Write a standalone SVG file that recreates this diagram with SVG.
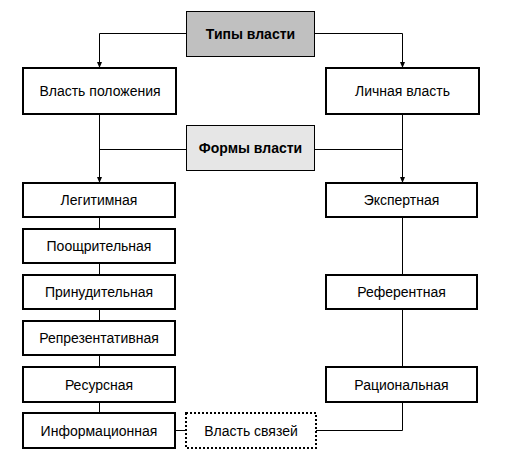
<svg xmlns="http://www.w3.org/2000/svg" width="513" height="458" viewBox="0 0 513 458">
<defs>
<marker id="arr" markerWidth="6" markerHeight="7" refX="5" refY="3" orient="auto" markerUnits="userSpaceOnUse">
<path d="M0,0.5 L6,3 L0,5.5 Z" fill="#000"/>
</marker>
<style>
.n rect{fill:#fff;stroke:#000;stroke-width:2}
.h rect{stroke:#000;stroke-width:1}
.d rect{fill:#fff;stroke:#000;stroke-width:2;stroke-dasharray:2 2}
text{font-family:"Liberation Sans",Arial,sans-serif;font-size:14px;text-anchor:middle;fill:#000}
.h text{font-weight:bold}
.c{fill:none;stroke:#000;stroke-width:1}
</style>
</defs>
<rect width="513" height="458" fill="#fff"/>
<g id="connectors">
<path class="c" d="M186,33.5 H99.5 V67" marker-end="url(#arr)"/>
<path class="c" d="M315,33.5 H402.5 V67" marker-end="url(#arr)"/>
<path class="c" d="M99.5,114 V182" marker-end="url(#arr)"/>
<path class="c" d="M402.5,114 V182" marker-end="url(#arr)"/>
<path class="c" d="M186,149.5 H99.5"/>
<path class="c" d="M315,149.5 H402.5"/>
<path class="c" d="M99.5,217 V229 M99.5,263 V275 M99.5,309 V321 M99.5,355 V367 M99.5,402 V413"/>
<path class="c" d="M402.5,217 V275 M402.5,309 V367"/>
<path class="c" d="M175,430.5 H186"/>
<path class="c" d="M316,430.5 H402.5 V402"/>
</g>
<g id="tipy" class="h"><rect x="186.5" y="11.5" width="128" height="45" fill="#c0c0c0"/><text x="250.5" y="39">Типы власти</text></g>
<g id="formy" class="h"><rect x="186.5" y="125.5" width="128" height="45" fill="#e6e6e6"/><text x="250.5" y="153">Формы власти</text></g>
<g id="polozhenie" class="n"><rect x="23" y="68" width="153" height="46"/><text x="100" y="96">Власть положения</text></g>
<g id="lichnaya" class="n"><rect x="326" y="68" width="153" height="46"/><text x="402.5" y="96">Личная власть</text></g>
<g id="legit" class="n"><rect x="23" y="183" width="152" height="34"/><text x="99" y="205">Легитимная</text></g>
<g id="pooshch" class="n"><rect x="23" y="229" width="152" height="34"/><text x="99" y="251">Поощрительная</text></g>
<g id="prinud" class="n"><rect x="23" y="275" width="152" height="34"/><text x="99" y="297">Принудительная</text></g>
<g id="repr" class="n"><rect x="23" y="321" width="152" height="34"/><text x="99" y="343">Репрезентативная</text></g>
<g id="resurs" class="n"><rect x="23" y="367" width="152" height="35"/><text x="99" y="389.5">Ресурсная</text></g>
<g id="inform" class="n"><rect x="23" y="413" width="152" height="35"/><text x="99" y="435.5">Информационная</text></g>
<g id="svyazi" class="d"><rect x="186" y="413" width="130" height="35"/><text x="251" y="435.5">Власть связей</text></g>
<g id="ekspert" class="n"><rect x="326" y="183" width="151" height="34"/><text x="401.5" y="205">Экспертная</text></g>
<g id="referent" class="n"><rect x="326" y="275" width="151" height="34"/><text x="401.5" y="297">Референтная</text></g>
<g id="racion" class="n"><rect x="326" y="367" width="151" height="35"/><text x="401.5" y="389.5">Рациональная</text></g>
</svg>
